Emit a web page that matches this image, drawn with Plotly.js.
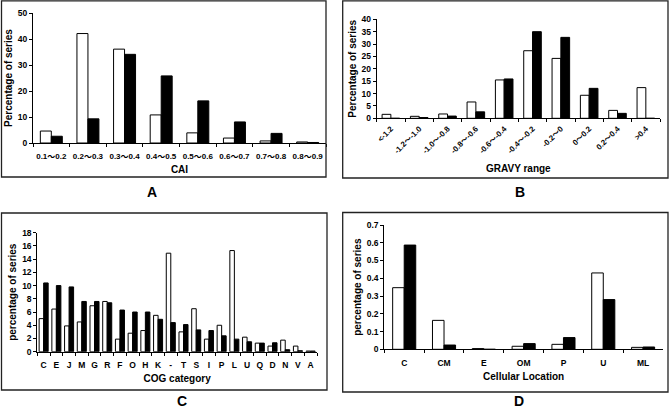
<!DOCTYPE html>
<html><head><meta charset="utf-8">
<script src="https://cdn.plot.ly/plotly-3.0.1.min.js"></script>
<style>html,body{margin:0;padding:0;background:#fff}</style>
</head><body><div id="chart" style="width:669px;height:410px"></div>
<script>
// ---- Data ----
const caiCats = ['0.1～0.2','0.2～0.3','0.3～0.4','0.4～0.5','0.5～0.6','0.6～0.7','0.7～0.8','0.8～0.9'];
const caiWhite = [4.6, 42.1, 36.1, 10.8, 3.9, 1.9, 0.8, 0.4];
const caiBlack = [2.6, 9.3, 34.1, 25.8, 16.2, 8.1, 3.7, 0.2];

const gravyCats = ['<-1.2','-1.2～-1.0','-1.0～-0.8','-0.8～-0.6','-0.6～-0.4','-0.4～-0.2','-0.2～0','0～0.2','0.2～0.4','>0.4'];
const gravyWhite = [1.6, 0.8, 1.75, 6.6, 15.5, 27.3, 24.2, 9.3, 3.2, 12.4];
const gravyBlack = [0, 0.3, 0.9, 2.6, 15.9, 35.0, 32.7, 12.1, 2.0, 0];

const cogCats = ['C','E','J','M','G','R','F','O','H','K','-','T','S','I','P','L','U','Q','D','N','V','A'];
const cogWhite = [5.0, 6.45, 3.9, 4.5, 6.95, 7.6, 1.9, 2.8, 3.2, 5.5, 14.9, 3.0, 6.5, 1.9, 4.0, 15.3, 2.2, 1.3, 0.85, 1.75, 0.85, 0.1];
const cogBlack = [10.4, 10.0, 9.8, 7.6, 7.6, 7.4, 6.3, 6.0, 6.0, 4.9, 4.4, 4.1, 3.3, 3.2, 2.4, 1.9, 1.5, 1.3, 1.35, 0.3, 0.15, 0.1];

const locCats = ['C','CM','E','OM','P','U','ML'];
const locWhite = [0.347, 0.163, 0.004, 0.017, 0.028, 0.43, 0.011];
const locBlack = [0.587, 0.024, 0, 0.032, 0.066, 0.28, 0.013];

// ---- Build ----
const W = 669, H = 410;
const px = v => v / W;
const py = v => 1 - v / H;
const FONT = 'Arial, "Liberation Sans", "Noto Sans CJK SC", sans-serif';

function pair(cats, white, black, xa, ya, w) {
  return [
    {type:'bar', x:cats, y:white, xaxis:xa, yaxis:ya, width:w, offset:-w,
     marker:{color:'#ffffff', line:{color:'#000', width:1}}, hoverinfo:'x+y'},
    {type:'bar', x:cats, y:black, xaxis:xa, yaxis:ya, width:w, offset:0,
     marker:{color:'#000000', line:{color:'#000', width:1}}, hoverinfo:'x+y'}
  ];
}

const data = [].concat(
  pair(caiCats, caiWhite, caiBlack, 'x', 'y', 0.3),
  pair(gravyCats, gravyWhite, gravyBlack, 'x2', 'y2', 0.31),
  pair(cogCats, cogWhite, cogBlack, 'x3', 'y3', 0.355),
  pair(locCats, locWhite, locBlack, 'x4', 'y4', 0.29)
);

function xax(dom, anchor, cats, title, tfs, extra) {
  return Object.assign({
    domain: dom, anchor: anchor, type:'category', categoryorder:'array', categoryarray: cats,
    range:[-0.5, cats.length - 0.5], fixedrange:true,
    showline:true, linecolor:'#000', linewidth:1, mirror:false,
    ticks:'outside', tickson:'boundaries', ticklen:3, tickwidth:1, tickcolor:'#000',
    tickangle:0, ticklabelstandoff:5,
    showgrid:false, zeroline:false,
    tickfont:{family:FONT, size:tfs, color:'#000', weight:'bold'},
    title:{text:title, font:{family:FONT, size:10, color:'#000', weight:'bold'}, standoff:6}
  }, extra || {});
}
function yax(dom, anchor, rng, dt, title, extra) {
  return Object.assign({
    domain: dom, anchor: anchor, range: rng, dtick: dt, tick0:0, fixedrange:true,
    showline:true, linecolor:'#000', linewidth:1,
    ticks:'outside', ticklen:3, tickwidth:1, tickcolor:'#000',
    showgrid:false, zeroline:false,
    tickfont:{family:FONT, size:8.5, color:'#000', weight:'bold'},
    title:{text:title, font:{family:FONT, size:10, color:'#000', weight:'bold'}, standoff:3}
  }, extra || {});
}

const layout = {
  width: W, height: H, margin:{l:0, r:0, t:0, b:0},
  paper_bgcolor:'#fff', plot_bgcolor:'rgba(0,0,0,0)', showlegend:false,
  font:{family:FONT, color:'#000'},
  xaxis:  xax([px(33), px(326)], 'y', caiCats, 'CAI', 8),
  yaxis:  yax([py(143), py(13)], 'x', [0, 50], 10, 'Percentage of series'),
  xaxis2: xax([px(376.7), px(660)], 'y2', gravyCats, 'GRAVY range', 7.8, {tickangle:-45, ticklabelstandoff:2, title:{text:'GRAVY range', font:{family:FONT, size:10, color:'#000', weight:'bold'}, standoff:10}}),
  yaxis2: yax([py(118.3), py(19.3)], 'x2', [0, 40], 5, 'Percentage of series'),
  xaxis3: xax([px(37.3), px(317)], 'y3', cogCats, 'COG category', 8.5),
  yaxis3: yax([py(351.7), py(232.7)], 'x3', [0, 18], 2, 'percentage of series'),
  xaxis4: xax([px(384.3), px(663)], 'y4', locCats, 'Cellular Location', 8.5),
  yaxis4: yax([py(349.3), py(225)], 'x4', [0, 0.7], 0.1, 'percentage of series'),
  shapes: [
    [1.5, 0.8, 326, 177], [342.7, 0.8, 668, 178],
    [1.5, 213, 327, 390], [342.7, 212.5, 668, 392]
  ].map(b => ({type:'rect', xref:'paper', yref:'paper',
    x0:px(b[0]), x1:px(b[2]), y0:py(b[3]), y1:py(b[1]),
    line:{color:'#222', width:1.3}, fillcolor:'rgba(0,0,0,0)'})),
  annotations: [
    ['A', 152, 192], ['B', 520, 192], ['C', 182, 401], ['D', 519, 401]
  ].map(a => ({text:a[0], xref:'paper', yref:'paper', x:px(a[1]), y:py(a[2]),
    xanchor:'center', yanchor:'middle', showarrow:false,
    font:{family:FONT, size:14, color:'#000', weight:'bold'}}))
};

Plotly.newPlot('chart', data, layout, {staticPlot:true, displayModeBar:false});
</script>
</body></html>
